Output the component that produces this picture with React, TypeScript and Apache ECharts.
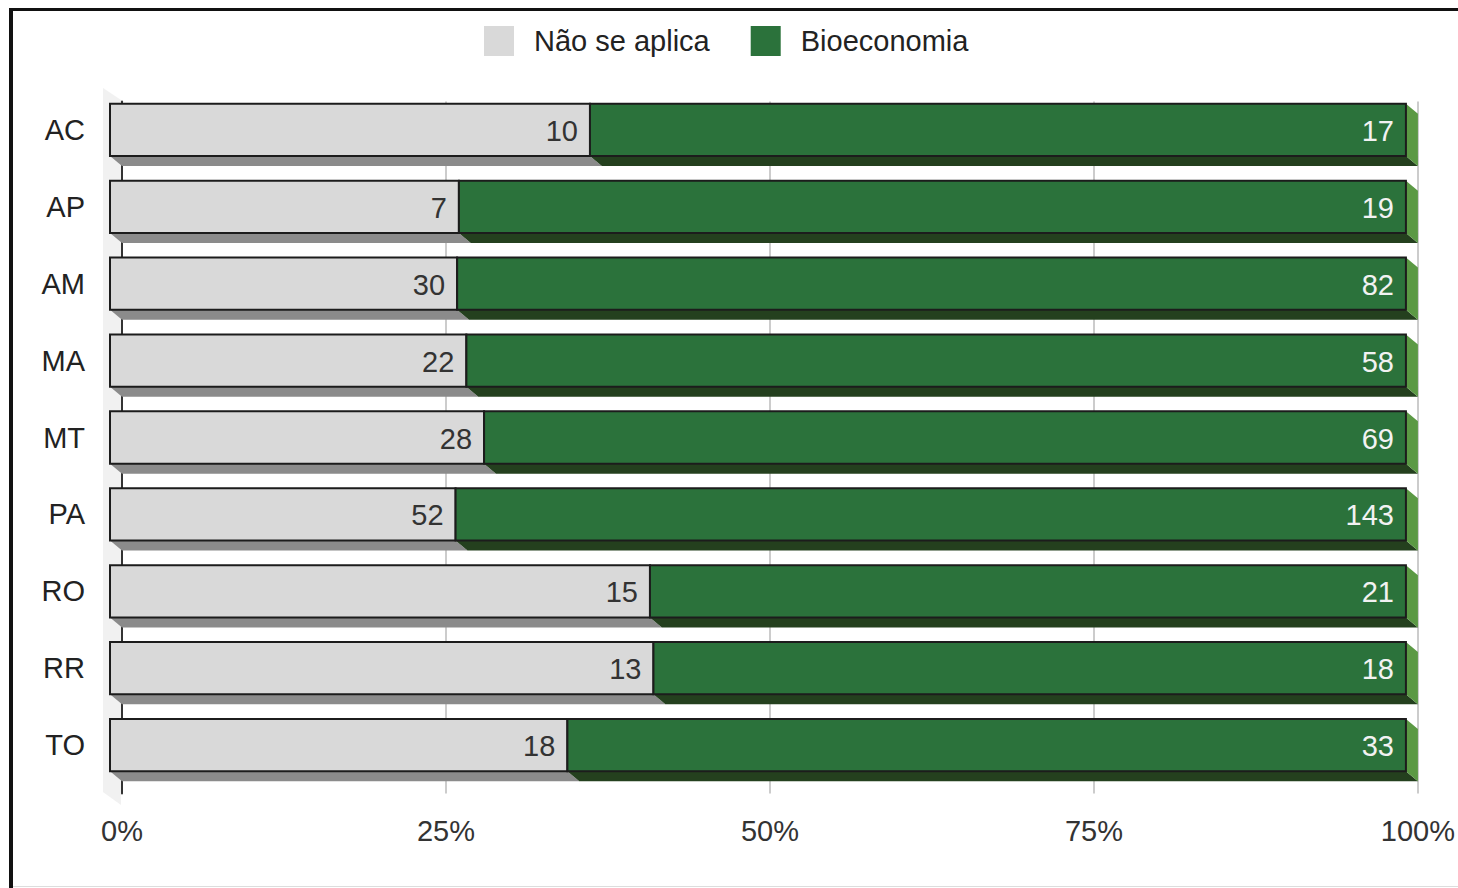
import React, { useEffect, useRef } from "react";
import * as echarts from "echarts";

const categories = ["AC", "AP", "AM", "MA", "MT", "PA", "RO", "RR", "TO"];
const naoSeAplica = [10, 7, 30, 22, 28, 52, 15, 13, 18];
const bioeconomia = [17, 19, 82, 58, 69, 143, 21, 18, 33];
const xTicks = [0, 25, 50, 75, 100];

const DX = 12;
const DY = 10;
const FONT = "'Liberation Sans', Arial, sans-serif";
const FS = 29;

function makeRender(front: string, bottom: string, side: string, labelColor: string) {
  return (params: any, api: any) => {
    const s = api.value(0);
    const e = api.value(1);
    const ci = api.value(2);
    const count = api.value(3);
    const p0 = api.coord([s, ci]);
    const p1 = api.coord([e, ci]);
    const band = api.size([0, 1])[1];
    const h = band * 0.68;
    const x0 = p0[0] - DX;
    const x1 = p1[0] - DX;
    const y0 = p0[1] - h / 2 - DY;
    const y1 = p0[1] + h / 2 - DY;
    return {
      type: "group",
      children: [
        {
          type: "polygon",
          shape: { points: [[x0, y1], [x1, y1], [x1 + DX, y1 + DY], [x0 + DX, y1 + DY]] },
          style: { fill: bottom },
        },
        {
          type: "polygon",
          shape: { points: [[x1, y0], [x1 + DX, y0 + DY], [x1 + DX, y1 + DY], [x1, y1]] },
          style: { fill: side },
        },
        {
          type: "rect",
          shape: { x: x0, y: y0, width: x1 - x0, height: y1 - y0 },
          style: { fill: front, stroke: "#1c1c1c", lineWidth: 2 },
        },
        {
          type: "text",
          x: x1 - 12,
          y: (y0 + y1) / 2 + 1,
          style: {
            text: String(count),
            align: "right",
            verticalAlign: "middle",
            fill: labelColor,
            font: `${FS}px ${FONT}`,
          },
        },
      ],
    };
  };
}

export default function App() {
  const ref = useRef<HTMLDivElement>(null);
  useEffect(() => {
    if (!ref.current) return;
    const chart = echarts.init(ref.current, null, { renderer: "svg" });
    const totals = categories.map((_, i) => naoSeAplica[i] + bioeconomia[i]);
    const greyData = categories.map((_, i) => [0, (naoSeAplica[i] / totals[i]) * 100, i, naoSeAplica[i]]);
    const greenData = categories.map((_, i) => [(naoSeAplica[i] / totals[i]) * 100, 100, i, bioeconomia[i]]);
    chart.setOption({
      animation: false,
      backgroundColor: "#ffffff",
      legend: {
        left: 484,
        top: 26,
        padding: 0,
        itemWidth: 30,
        itemHeight: 30,
        itemGap: 41,
        icon: "rect",
        textStyle: { fontSize: FS, color: "#222", fontFamily: FONT, padding: [0, 0, 0, 15] },
        data: ["Não se aplica", "Bioeconomia"],
      },
      grid: { left: 122, right: 39, top: 101.5, bottom: 94.5, containLabel: false },
      xAxis: {
        type: "value",
        min: 0,
        max: 100,
        interval: 25,
        axisLine: { show: false },
        axisTick: { show: false },
        splitLine: { show: true, lineStyle: { color: "#cccccc", width: 2 } },
        axisLabel: {
          formatter: "{value}%",
          fontSize: FS,
          color: "#333",
          fontFamily: FONT,
          margin: 23,
          customValues: xTicks,
        },
      },
      yAxis: {
        type: "category",
        inverse: true,
        data: categories,
        axisLine: { show: true, lineStyle: { color: "#333", width: 2 } },
        axisTick: { show: false },
        axisLabel: {
          fontSize: FS,
          color: "#222",
          fontFamily: FONT,
          margin: 37,
          verticalAlign: "bottom",
          lineHeight: 20,
        },
      },
      graphic: [
        {
          type: "polygon",
          z: -1,
          shape: { points: [[103, 88], [121, 100], [121, 805], [103, 792]] },
          style: { fill: "#f1f1f1" },
        },
        { type: "rect", shape: { x: 9, y: 8, width: 1449, height: 3 }, style: { fill: "#111" } },
        { type: "rect", shape: { x: 9, y: 8, width: 4, height: 880 }, style: { fill: "#111" } },
        { type: "rect", shape: { x: 13, y: 886, width: 1445, height: 1 }, style: { fill: "#dddddd" } },
      ],
      series: [
        {
          name: "Não se aplica",
          type: "custom",
          itemStyle: { color: "#d9d9d9" },
          encode: { x: [0, 1], y: 2 },
          data: greyData,
          renderItem: makeRender("#d9d9d9", "#8b8b8b", "#b5b5b5", "#333333"),
        },
        {
          name: "Bioeconomia",
          type: "custom",
          itemStyle: { color: "#2b723b" },
          encode: { x: [0, 1], y: 2 },
          data: greenData,
          renderItem: makeRender("#2b723b", "#24401e", "#5b9944", "#f2f2f2"),
        },
      ],
    });
    return () => chart.dispose();
  }, []);
  return (
    <div
      ref={ref}
      style={{ position: "absolute", left: 0, top: 0, width: 1458, height: 888 }}
    />
  );
}
